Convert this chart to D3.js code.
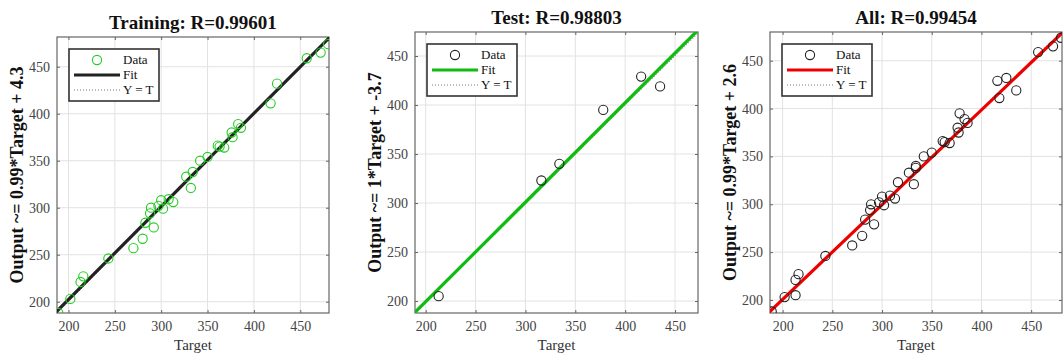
<!DOCTYPE html>
<html>
<head>
<meta charset="UTF-8">
<script src="https://cdnjs.cloudflare.com/ajax/libs/d3/7.8.5/d3.min.js"></script>
<style>
  body { margin: 0; background: #fff; }
  svg { display: block; font-family: "Liberation Serif", "Times New Roman", serif; }
</style>
</head>
<body>
<div id="chart"></div>
<script>
// training set (target, network output)
const trainTarget = [189, 202, 213, 216, 243, 270, 280, 283, 288, 289, 292, 297, 300, 302, 308, 313, 327, 332,
                     334, 342, 350, 361, 363, 368, 376, 377, 383, 386, 418, 425, 457, 472, 480];
const trainOutput = [188, 203, 221, 227, 246, 257, 267, 284, 294, 300, 279, 302, 308, 299, 309, 306, 333, 321,
                     338, 350, 354, 366, 365, 364, 380, 375, 389, 385, 411, 432, 459, 465, 474];
// test set
const testTarget = [213, 316, 334, 378, 416, 435];
const testOutput = [205, 323, 340, 395, 429, 419];

const titles = ["Training: R=0.99601", "Test: R=0.98803", "All: R=0.99454"];
const yLabels = ["Output ~= 0.99*Target + 4.3", "Output ~= 1*Target + -3.7", "Output ~= 0.99*Target + 2.6"];
const fitSlope = [0.99, 1.015, 0.99];
const fitIntercept = [4.3, -3.7, 2.6];
const ticks = [200, 250, 300, 350, 400, 450];

const panels = [
  { t: trainTarget, o: trainOutput, marker: "#22cc22", fit: "#222222",
    box: { l: 57, r: 329, t: 37, b: 313 }, xd: [187.6, 481], yd: [188, 481.6] },
  { t: testTarget, o: testOutput, marker: "#222222", fit: "#11bb11",
    box: { l: 415, r: 698, t: 32, b: 313 }, xd: [189.3, 473], yd: [187.8, 474.5] },
  { t: trainTarget.concat(testTarget), o: trainOutput.concat(testOutput), marker: "#222222", fit: "#ee0000",
    box: { l: 770, r: 1062, t: 32, b: 313 }, xd: [187.3, 481], yd: [186.4, 480] }
];

const svg = d3.select("#chart").append("svg")
  .attr("width", 1063)
  .attr("height", 357);

panels.forEach((p, i) => {
  const b = p.box;
  const x = d3.scaleLinear().domain(p.xd).range([b.l, b.r]);
  const y = d3.scaleLinear().domain(p.yd).range([b.b, b.t]);
  const g = svg.append("g");

  g.append("clipPath").attr("id", "clip" + i)
    .append("rect").attr("x", b.l).attr("y", b.t).attr("width", b.r - b.l).attr("height", b.b - b.t);

  // grid
  g.selectAll(".gx").data(ticks).enter().append("line")
    .attr("x1", d => x(d)).attr("x2", d => x(d)).attr("y1", b.t).attr("y2", b.b)
    .attr("stroke", "#e2e2e2").attr("stroke-width", 1);
  g.selectAll(".gy").data(ticks).enter().append("line")
    .attr("y1", d => y(d)).attr("y2", d => y(d)).attr("x1", b.l).attr("x2", b.r)
    .attr("stroke", "#e2e2e2").attr("stroke-width", 1);

  // axes (ticks inside, on all sides)
  const ax = [
    d3.axisBottom(x).tickValues(ticks).tickSize(-3).tickPadding(8),
    d3.axisTop(x).tickValues(ticks).tickSize(-3).tickFormat(""),
    d3.axisLeft(y).tickValues(ticks).tickSize(-3).tickPadding(7),
    d3.axisRight(y).tickValues(ticks).tickSize(-3).tickFormat("")
  ];
  const pos = [`translate(0,${b.b})`, `translate(0,${b.t})`, `translate(${b.l},0)`, `translate(${b.r},0)`];
  ax.forEach((a, k) => {
    const ag = g.append("g").attr("transform", pos[k]).call(a);
    ag.select(".domain").remove();
    ag.selectAll("line").attr("stroke", "#666");
    ag.selectAll("text").attr("fill", "#444").style("font-size", "14px")
      .style("font-family", "Liberation Serif, serif");
  });
  g.append("rect").attr("x", b.l).attr("y", b.t).attr("width", b.r - b.l).attr("height", b.b - b.t)
    .attr("fill", "none").attr("stroke", "#666").attr("stroke-width", 1.2);

  const plot = g.append("g").attr("clip-path", `url(#clip${i})`);
  const lo = 150, hi = 500;

  // Y = T
  plot.append("line")
    .attr("x1", x(lo)).attr("y1", y(lo)).attr("x2", x(hi)).attr("y2", y(hi))
    .attr("stroke", "#777").attr("stroke-width", 1).attr("stroke-dasharray", "1,2");

  // fit
  plot.append("line")
    .attr("x1", x(lo)).attr("y1", y(fitSlope[i] * lo + fitIntercept[i]))
    .attr("x2", x(hi)).attr("y2", y(fitSlope[i] * hi + fitIntercept[i]))
    .attr("stroke", p.fit).attr("stroke-width", 3.2);

  // data
  plot.selectAll(".pt").data(p.t).enter().append("circle")
    .attr("cx", d => x(d)).attr("cy", (d, j) => y(p.o[j]))
    .attr("r", 4.6).attr("fill", "none").attr("stroke", p.marker).attr("stroke-width", 1.1);

  // title
  g.append("text").attr("x", (b.l + b.r) / 2).attr("y", b.t - 8)
    .attr("text-anchor", "middle").style("font-size", "19px").style("font-weight", "bold")
    .attr("fill", "#111").text(titles[i]);

  // axis labels
  g.append("text").attr("x", (b.l + b.r) / 2).attr("y", 350)
    .attr("text-anchor", "middle").style("font-size", "15px").attr("fill", "#333").text("Target");
  g.append("text")
    .attr("transform", `translate(${b.l - 34},${(b.t + b.b) / 2}) rotate(-90)`)
    .attr("text-anchor", "middle").style("font-size", "18px").style("font-weight", "bold")
    .attr("fill", "#111").text(yLabels[i]);

  // legend
  const lx = b.l + 12, ly = b.t + 12;
  const lg = g.append("g");
  lg.append("rect").attr("x", lx).attr("y", ly).attr("width", 90).attr("height", 52)
    .attr("fill", "#fff").attr("stroke", "#333").attr("stroke-width", 1.6);
  lg.append("circle").attr("cx", lx + 28).attr("cy", ly + 11).attr("r", 4.6)
    .attr("fill", "none").attr("stroke", p.marker).attr("stroke-width", 1.1);
  lg.append("line").attr("x1", lx + 5).attr("x2", lx + 51).attr("y1", ly + 26).attr("y2", ly + 26)
    .attr("stroke", p.fit).attr("stroke-width", 3.2);
  lg.append("line").attr("x1", lx + 5).attr("x2", lx + 51).attr("y1", ly + 41).attr("y2", ly + 41)
    .attr("stroke", "#777").attr("stroke-width", 1).attr("stroke-dasharray", "1,2");
  ["Data", "Fit", "Y = T"].forEach((s, k) => {
    lg.append("text").attr("x", lx + 54).attr("y", ly + 15 + k * 15)
      .style("font-size", "13px").attr("fill", "#111").text(s);
  });
});
</script>
</body>
</html>
